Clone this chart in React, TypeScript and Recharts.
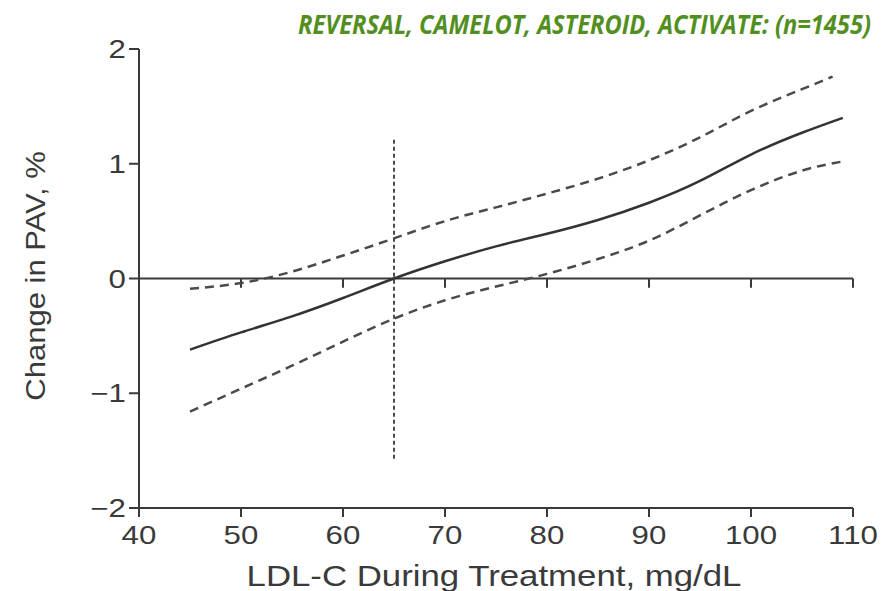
import { LineChart, Line, XAxis, YAxis, ReferenceLine } from 'recharts';

// LDL-C during treatment (mg/dL) vs change in PAV (%)
const fitX = [45, 50, 55, 60, 65, 70, 75, 80, 85, 90, 95, 100, 105, 109];
const fitY = [-0.62, -0.47, -0.33, -0.17, 0.0, 0.15, 0.28, 0.39, 0.51, 0.66, 0.85, 1.08, 1.27, 1.4];

const upperX = [45, 50, 55, 60, 65, 70, 75, 80, 85, 90, 95, 100, 105, 108];
const upperY = [-0.09, -0.04, 0.06, 0.2, 0.35, 0.5, 0.62, 0.74, 0.87, 1.03, 1.23, 1.46, 1.65, 1.76];

const lowerX = [45, 50, 55, 60, 65, 70, 75, 80, 85, 90, 95, 100, 105, 109];
const lowerY = [-1.16, -0.96, -0.76, -0.55, -0.35, -0.19, -0.07, 0.04, 0.17, 0.33, 0.55, 0.77, 0.94, 1.02];

const xTicks = [40, 50, 60, 70, 80, 90, 100, 110];
const yTicks = [-2, -1, 0, 1, 2];
const thresholdX = 65;
const thresholdSpan = [-1.57, 1.22];

const title = 'REVERSAL, CAMELOT, ASTEROID, ACTIVATE: (n=1455)';

const fit = fitX.map((x, i) => ({ x, y: fitY[i] }));
const upper = upperX.map((x, i) => ({ x, y: upperY[i] }));
const lower = lowerX.map((x, i) => ({ x, y: lowerY[i] }));

const ink = '#3a3a3a';
const font = '"Liberation Sans", Arial, sans-serif';

// Helvetica in the source is drawn a little wide, so stretch the tick text
function XTick({ x, y, payload }: any) {
  return (
    <g transform={`translate(${x},${y})`}>
      <text transform="scale(1.25,1)" textAnchor="middle" dy={23} fontSize={25} fill={ink} fontFamily={font}>
        {payload.value}
      </text>
    </g>
  );
}

function YTick({ x, y, payload }: any) {
  return (
    <g transform={`translate(${x},${y})`}>
      <text transform="scale(1.25,1)" textAnchor="end" dy={9} fontSize={25} fill={ink} fontFamily={font}>
        {String(payload.value).replace('-', '\u2212')}
      </text>
    </g>
  );
}

export default function App() {
  return (
    <div style={{ position: 'absolute', left: 0, top: 0, width: 888, height: 591, background: '#fff' }}>
      <svg width={888} height={591} style={{ position: 'absolute', left: 0, top: 0 }}>
        <g transform="translate(298,34) scale(0.75,1)">
          <text
            x={0}
            y={0}
            textLength={764}
            lengthAdjust="spacingAndGlyphs"
            fill="#538f1f"
            fontFamily='"Open Sans", sans-serif'
            fontWeight={700}
            fontStyle="italic"
            fontSize={27}
          >
            {title}
          </text>
        </g>
        <g transform="translate(494,577) scale(1.2,1)">
          <text textAnchor="middle" dy={9} fontSize={29} fill={ink} fontFamily={font}>
            LDL-C During Treatment, mg/dL
          </text>
        </g>
        <g transform="translate(35,276) rotate(-90) scale(1.15,1)">
          <text textAnchor="middle" dy={10} fontSize={27} fill={ink} fontFamily={font}>
            Change in PAV, %
          </text>
        </g>
      </svg>
      <LineChart
        width={888}
        height={591}
        margin={{ top: 49, right: 35, bottom: 33, left: 79 }}
        style={{ position: 'absolute', left: 0, top: 0 }}
      >
        <XAxis
          dataKey="x"
          type="number"
          domain={[40, 110]}
          ticks={xTicks}
          height={50}
          tick={<XTick />}
          tickSize={9}
          tickMargin={4}
          axisLine={{ stroke: ink, strokeWidth: 2 }}
          tickLine={{ stroke: ink, strokeWidth: 2 }}
          allowDuplicatedCategory={false}
        />
        <YAxis
          type="number"
          domain={[-2, 2]}
          ticks={yTicks}
          width={60}
          tick={<YTick />}
          tickSize={10}
          tickMargin={3}
          axisLine={{ stroke: ink, strokeWidth: 2 }}
          tickLine={{ stroke: ink, strokeWidth: 2 }}
        />
        <ReferenceLine y={0} stroke={ink} strokeWidth={2} />
        {xTicks.slice(1).map((t) => (
          <ReferenceLine
            key={t}
            segment={[{ x: t, y: 0 }, { x: t, y: -0.08 }]}
            stroke={ink}
            strokeWidth={2}
          />
        ))}
        <ReferenceLine
          segment={[{ x: thresholdX, y: thresholdSpan[0] }, { x: thresholdX, y: thresholdSpan[1] }]}
          stroke="#111"
          strokeWidth={1.5}
          strokeDasharray="4 3"
        />
        <Line data={upper} dataKey="y" type="natural" stroke="#4a4a4a" strokeWidth={2.5}
          strokeDasharray="9 6" dot={false} isAnimationActive={false} />
        <Line data={lower} dataKey="y" type="natural" stroke="#4a4a4a" strokeWidth={2.5}
          strokeDasharray="9 6" dot={false} isAnimationActive={false} />
        <Line data={fit} dataKey="y" type="natural" stroke="#333" strokeWidth={2.5}
          dot={false} isAnimationActive={false} />
      </LineChart>
    </div>
  );
}
